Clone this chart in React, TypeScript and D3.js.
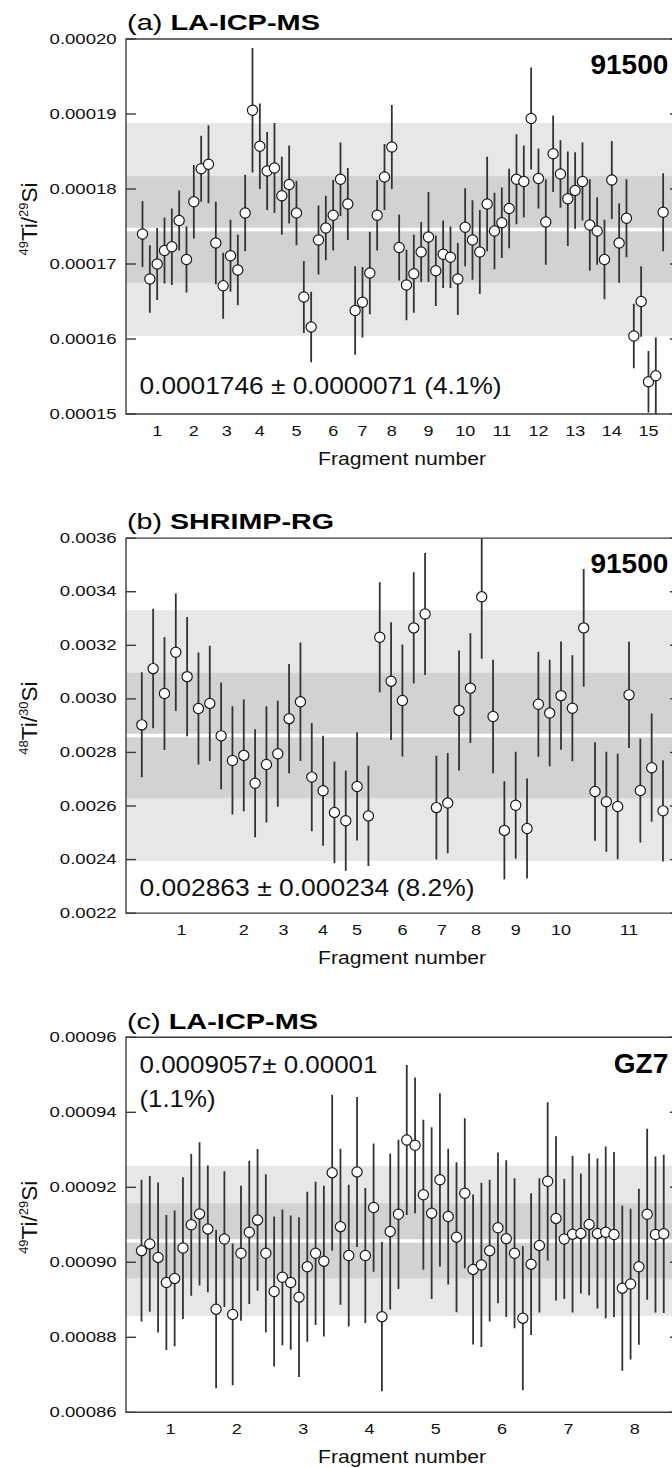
import React from 'react';
import * as d3 from 'd3';

// ---------- data ----------
const aFragments = [5, 5, 4, 5, 5, 5, 3, 5, 5, 5, 5, 5, 5, 5, 5];
const aLabels = ['1','2','3','4','5','6','7','8','9','10','11','12','13','14','15'];
const aValues = [
  0.0001740, 0.0001680, 0.0001700, 0.0001718, 0.0001723, 0.0001758, 0.0001706, 0.0001783, 0.0001827, 0.0001833,
  0.0001728, 0.0001671, 0.0001711, 0.0001692, 0.0001768, 0.0001905, 0.0001857, 0.0001824, 0.0001828, 0.0001791,
  0.0001806, 0.0001768, 0.0001656, 0.0001616, 0.0001732, 0.0001748, 0.0001765, 0.0001813, 0.0001780, 0.0001638,
  0.0001649, 0.0001688, 0.0001765, 0.0001816, 0.0001856, 0.0001722, 0.0001672, 0.0001687, 0.0001716, 0.0001736,
  0.0001691, 0.0001713, 0.0001709, 0.0001680, 0.0001749, 0.0001732, 0.0001716, 0.0001780, 0.0001744, 0.0001755,
  0.0001774, 0.0001813, 0.0001810, 0.0001894, 0.0001814, 0.0001756, 0.0001847, 0.0001820, 0.0001787, 0.0001798,
  0.0001810, 0.0001752, 0.0001744, 0.0001706, 0.0001812, 0.0001728, 0.0001761, 0.0001604, 0.0001650, 0.0001543,
  0.0001551, 0.0001769,
];
const aErrors = [
  4.4e-6, 4.5e-6, 4.8e-6, 4.4e-6, 5.1e-6, 4.0e-6, 4.4e-6, 4.9e-6, 4.4e-6, 5.2e-6,
  5.5e-6, 4.4e-6, 4.8e-6, 4.7e-6, 5.1e-6, 8.3e-6, 5.7e-6, 5.2e-6, 6.0e-6, 5.2e-6,
  5.2e-6, 4.3e-6, 4.8e-6, 4.7e-6, 4.6e-6, 4.3e-6, 4.7e-6, 4.9e-6, 4.8e-6, 5.9e-6,
  4.7e-6, 5.5e-6, 4.7e-6, 4.4e-6, 5.6e-6, 4.4e-6, 4.7e-6, 5.2e-6, 4.0e-6, 6.0e-6,
  4.7e-6, 4.5e-6, 4.1e-6, 4.8e-6, 5.2e-6, 5.3e-6, 5.6e-6, 6.3e-6, 5.1e-6, 4.7e-6,
  5.3e-6, 6.0e-6, 4.8e-6, 6.8e-6, 4.0e-6, 5.7e-6, 5.1e-6, 4.5e-6, 6.3e-6, 5.1e-6,
  5.2e-6, 6.1e-6, 4.5e-6, 5.3e-6, 5.2e-6, 5.3e-6, 5.2e-6, 4.3e-6, 4.7e-6, 4.1e-6,
  5.1e-6, 5.2e-6,
];
const aYTicks = [0.00015, 0.00016, 0.00017, 0.00018, 0.00019, 0.0002];
const aYTickLabels = ['0.00015', '0.00016', '0.00017', '0.00018', '0.00019', '0.00020'];

const bFragments = [8, 3, 4, 3, 3, 5, 2, 4, 3, 5, 7];
const bLabels = ['1','2','3','4','5','6','7','8','9','10','11'];
const bValues = [
  0.002903, 0.003113, 0.003020, 0.003174, 0.003083, 0.002964, 0.002983, 0.002862, 0.002770, 0.002789,
  0.002685, 0.002755, 0.002795, 0.002926, 0.002989, 0.002708, 0.002657, 0.002576, 0.002545, 0.002673,
  0.002563, 0.003230, 0.003066, 0.002994, 0.003265, 0.003317, 0.002594, 0.002611, 0.002957, 0.003040,
  0.003381, 0.002934, 0.002509, 0.002603, 0.002516, 0.002980, 0.002947, 0.003012, 0.002965, 0.003265,
  0.002654, 0.002616, 0.002598, 0.003015, 0.002658, 0.002743, 0.002582,
];
const bErrors = [
  1.96e-4, 2.23e-4, 2.11e-4, 2.19e-4, 2.23e-4, 2.09e-4, 2.15e-4, 1.99e-4, 2.02e-4, 2.09e-4,
  2.02e-4, 2.17e-4, 1.98e-4, 2.04e-4, 2.21e-4, 2.02e-4, 2.05e-4, 1.90e-4, 1.87e-4, 2.02e-4,
  1.87e-4, 2.05e-4, 2.20e-4, 2.09e-4, 2.08e-4, 2.28e-4, 1.94e-4, 1.87e-4, 2.24e-4, 2.05e-4,
  2.31e-4, 2.12e-4, 1.83e-4, 2.00e-4, 1.87e-4, 1.96e-4, 1.99e-4, 2.02e-4, 1.98e-4, 2.20e-4,
  1.84e-4, 1.87e-4, 1.97e-4, 1.98e-4, 1.94e-4, 2.02e-4, 1.89e-4,
];
const bYTicks = [0.0022, 0.0024, 0.0026, 0.0028, 0.003, 0.0032, 0.0034, 0.0036];
const bYTickLabels = ['0.0022', '0.0024', '0.0026', '0.0028', '0.0030', '0.0032', '0.0034', '0.0036'];

const cFragments = [8, 8, 8, 8, 8, 8, 8, 8];
const cLabels = ['1','2','3','4','5','6','7','8'];
const cValues = [
  0.0009031, 0.0009049, 0.0009013, 0.0008946, 0.0008957, 0.0009038, 0.0009100, 0.0009129,
  0.0009089, 0.0008875, 0.0009062, 0.0008861, 0.0009024, 0.0009080, 0.0009113, 0.0009024,
  0.0008922, 0.0008960, 0.0008946, 0.0008907, 0.0008988, 0.0009024, 0.0009003, 0.0009239,
  0.0009095, 0.0009018, 0.0009241, 0.0009018, 0.0009146, 0.0008855, 0.0009082, 0.0009128,
  0.0009326, 0.0009312, 0.0009180, 0.0009131, 0.0009220, 0.0009122, 0.0009067, 0.0009184,
  0.0008981, 0.0008993, 0.0009031, 0.0009092, 0.0009063, 0.0009024, 0.0008851, 0.0008995,
  0.0009045, 0.0009216, 0.0009117, 0.0009062, 0.0009075, 0.0009077, 0.0009101, 0.0009077,
  0.0009080, 0.0009074, 0.0008931, 0.0008942, 0.0008988, 0.0009128, 0.0009074, 0.0009076,
];
const cErrors = [
  1.89e-5, 1.81e-5, 2.00e-5, 1.80e-5, 1.81e-5, 1.89e-5, 1.89e-5, 1.91e-5,
  1.69e-5, 2.11e-5, 1.81e-5, 1.89e-5, 1.80e-5, 1.91e-5, 1.89e-5, 2.11e-5,
  2.00e-5, 1.81e-5, 1.79e-5, 2.13e-5, 2.00e-5, 1.91e-5, 2.01e-5, 2.08e-5,
  2.08e-5, 1.89e-5, 2.00e-5, 1.80e-5, 1.71e-5, 1.99e-5, 2.08e-5, 1.99e-5,
  2.00e-5, 1.81e-5, 2.00e-5, 2.29e-5, 2.31e-5, 1.81e-5, 2.00e-5, 2.00e-5,
  2.00e-5, 2.19e-5, 1.89e-5, 2.01e-5, 2.09e-5, 2.00e-5, 1.92e-5, 1.89e-5,
  1.79e-5, 2.11e-5, 2.19e-5, 1.60e-5, 2.09e-5, 1.60e-5, 1.89e-5, 2.00e-5,
  2.29e-5, 2.20e-5, 2.20e-5, 2.01e-5, 2.08e-5, 2.28e-5, 2.08e-5, 2.11e-5,
];
const cYTicks = [0.00086, 0.00088, 0.0009, 0.00092, 0.00094, 0.00096];
const cYTickLabels = ['0.00086', '0.00088', '0.00090', '0.00092', '0.00094', '0.00096'];

const means = [0.0001746, 0.002863, 0.0009057];
const sds = [0.0000071, 0.000234, 0.00001];
const titlesPrefix = ['(a) ', '(b) ', '(c) '];
const titlesBold = ['LA-ICP-MS', 'SHRIMP-RG', 'LA-ICP-MS'];
const sampleNames = ['91500', '91500', 'GZ7'];
const noteLines = [
  ['0.0001746 \u00B1 0.0000071 (4.1%)'],
  ['0.002863 \u00B1 0.000234 (8.2%)'],
  ['0.0009057\u00B1 0.00001', '(1.1%)'],
];
const yLabelParts = [
  ['49', 'Ti/', '29', 'Si'],
  ['48', 'Ti/', '30', 'Si'],
  ['49', 'Ti/', '29', 'Si'],
];

// ---------- layout ----------
const FONT = "'Liberation Sans', Arial, Helvetica, sans-serif";
const LEFT = 126;
const RIGHT = 680;
const PLOT_H = 375;
const PANEL_STEP = 499.15;
const FIRST_TOP = 39;

const panels = [
  {
    fragments: aFragments, labels: aLabels, values: aValues, errors: aErrors,
    yDomain: [0.00015, 0.0002], yTicks: aYTicks, yTickLabels: aYTickLabels,
    xDomain: [-2.25, 73.3], titleLen: 193, noteLens: [362], noteBase: [-20],
    noteFromTop: false,
  },
  {
    fragments: bFragments, labels: bLabels, values: bValues, errors: bErrors,
    yDomain: [0.0022, 0.0036], yTicks: bYTicks, yTickLabels: bYTickLabels,
    xDomain: [-1.395, 47.5], titleLen: 207, noteLens: [335], noteBase: [-17.5],
    noteFromTop: false,
  },
  {
    fragments: cFragments, labels: cLabels, values: cValues, errors: cErrors,
    yDomain: [0.00086, 0.00096], yTicks: cYTicks, yTickLabels: cYTickLabels,
    xDomain: [-1.87, 64.96], titleLen: 191, noteLens: [238, 76], noteBase: [36, 69.4],
    noteFromTop: true,
  },
];

function Panel({ k }: { k: number }) {
  const p = panels[k];
  const top = FIRST_TOP + k * PANEL_STEP;
  const bottom = top + PLOT_H;
  const x = d3.scaleLinear().domain(p.xDomain).range([LEFT, RIGHT]);
  const y = d3.scaleLinear().domain(p.yDomain).range([bottom, top]);
  const mean = means[k];
  const sd = sds[k];

  const starts = d3.cumsum([0, ...p.fragments]);
  const centers = p.fragments.map((n, j) => starts[j] + (n - 1) / 2);
  const boundaries = starts.slice(1, p.fragments.length).map((s) => s - 0.5);
  const clipId = `clip-${k}`;
  const cy = (top + bottom) / 2 - 7.5;
  const yl = yLabelParts[k];

  return (
    <g>
      <defs>
        <clipPath id={clipId}>
          <rect x={LEFT} y={top} width={RIGHT - LEFT} height={PLOT_H} />
        </clipPath>
      </defs>
      <g clipPath={`url(#${clipId})`}>
        <rect x={LEFT} y={y(mean + 2 * sd)} width={RIGHT - LEFT}
          height={y(mean - 2 * sd) - y(mean + 2 * sd)} fill="#e6e7e9" />
        <rect x={LEFT} y={y(mean + sd)} width={RIGHT - LEFT}
          height={y(mean - sd) - y(mean + sd)} fill="#d1d2d4" />
        <line x1={LEFT} x2={RIGHT} y1={y(mean)} y2={y(mean)} stroke="#ffffff" strokeWidth={3.5} />
        {boundaries.map((b, j) => (
          <line key={j} x1={x(b)} x2={x(b)} y1={top} y2={bottom}
            stroke="#a3a3a3" strokeWidth={1} strokeDasharray="7,7" />
        ))}
        {p.values.map((v, i) => (
          <line key={i} x1={x(i)} x2={x(i)} y1={y(v + p.errors[i])} y2={y(v - p.errors[i])}
            stroke="#333333" strokeWidth={1.8} />
        ))}
        {p.values.map((v, i) => (
          <circle key={i} cx={x(i)} cy={y(v)} r={5.1} fill="#ffffff" stroke="#1a1a1a" strokeWidth={1.2} />
        ))}
      </g>
      {/* frame */}
      <path d={`M${RIGHT},${top}H${LEFT}V${bottom}H${RIGHT}`} fill="none" stroke="#3c3c3c" strokeWidth={1.4} />
      <line x1={RIGHT} x2={RIGHT} y1={top} y2={bottom} stroke="#3c3c3c" strokeWidth={1.4} />
      {/* y ticks */}
      {p.yTicks.map((t, j) => (
        <g key={j}>
          <line x1={LEFT} x2={LEFT + 10} y1={y(t)} y2={y(t)} stroke="#3c3c3c" strokeWidth={1.4} />
          <line x1={RIGHT - 10} x2={RIGHT} y1={y(t)} y2={y(t)} stroke="#3c3c3c" strokeWidth={1.4} />
          <text transform={`translate(116.7,${y(t) + 4.6}) scale(1.24,1)`} textAnchor="end"
            fontFamily={FONT} fontSize={15} fill="#111">{p.yTickLabels[j]}</text>
        </g>
      ))}
      {/* x labels */}
      {centers.map((c, j) => (
        <text key={j} transform={`translate(${x(c)},${bottom + 21.7}) scale(1.2,1)`} textAnchor="middle"
          fontFamily={FONT} fontSize={15} fill="#111">{p.labels[j]}</text>
      ))}
      <text x={402} y={bottom + 51} textAnchor="middle" fontFamily={FONT} fontSize={17.5}
        textLength={168} lengthAdjust="spacingAndGlyphs" fill="#111">Fragment number</text>
      {/* title */}
      <text x={127} y={top - 8.8} fontFamily={FONT} fontSize={21.5} fill="#000"
        textLength={p.titleLen} lengthAdjust="spacingAndGlyphs">
        <tspan>{titlesPrefix[k]}</tspan>
        <tspan fontWeight="bold">{titlesBold[k]}</tspan>
      </text>
      {/* sample name */}
      <text x={668.3} y={top + 35.3} textAnchor="end" fontFamily={FONT} fontSize={28}
        fontWeight="bold" fill="#000">{sampleNames[k]}</text>
      {/* note */}
      {noteLines[k].map((s, j) => (
        <text key={j} x={139.5} y={(p.noteFromTop ? top : bottom) + p.noteBase[j]}
          fontFamily={FONT} fontSize={24} fill="#111"
          textLength={p.noteLens[j]} lengthAdjust="spacingAndGlyphs">{s}</text>
      ))}
      {/* y label */}
      <text transform={`translate(36.5,${cy}) rotate(-90)`} textAnchor="middle"
        fontFamily={FONT} fontSize={22.5} fill="#111">
        <tspan fontSize={13} dy={-8.5}>{yl[0]}</tspan>
        <tspan dy={8.5}>{yl[1]}</tspan>
        <tspan fontSize={13} dy={-8.5}>{yl[2]}</tspan>
        <tspan dy={8.5}>{yl[3]}</tspan>
      </text>
    </g>
  );
}

export default function App() {
  return (
    <svg width={672} height={1468} viewBox="0 0 672 1468"
      style={{ position: 'absolute', left: 0, top: 0, background: '#fff' }}>
      <rect x={0} y={0} width={672} height={1468} fill="#fff" />
      {[0, 1, 2].map((k) => <Panel key={k} k={k} />)}
    </svg>
  );
}
